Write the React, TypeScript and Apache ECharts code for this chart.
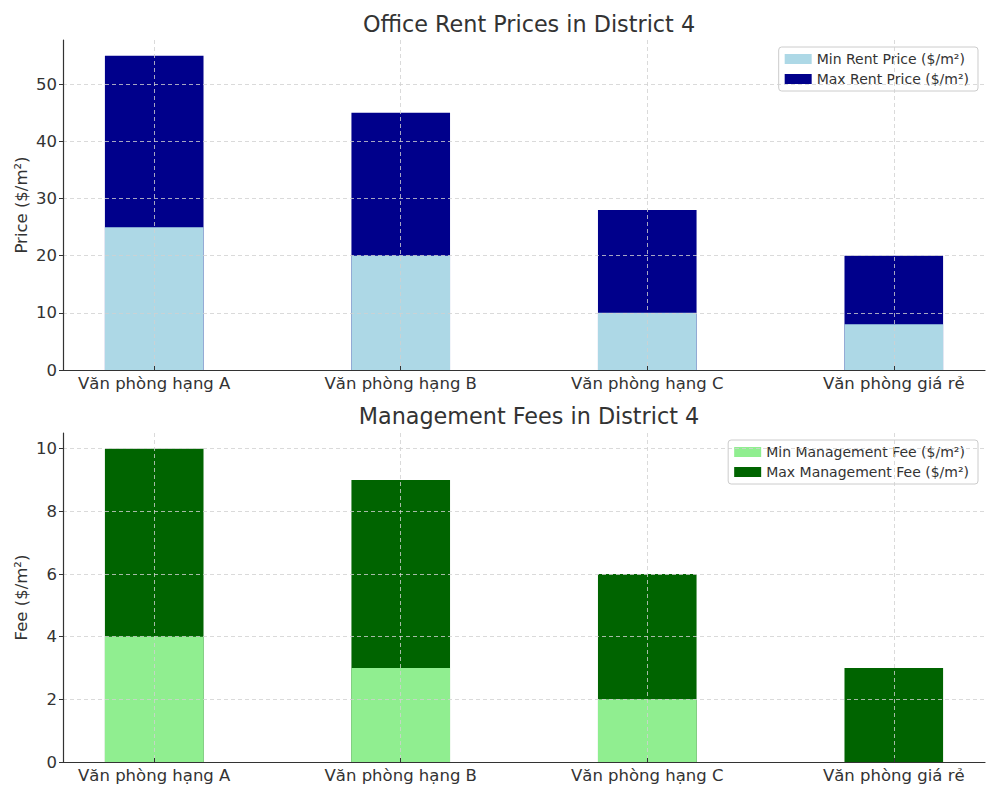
import React, { useEffect, useRef } from "react";
import * as echarts from "echarts";

const categories = ["Văn phòng hạng A", "Văn phòng hạng B", "Văn phòng hạng C", "Văn phòng giá rẻ"];
const minRent = [25, 20, 10, 8];
const maxRent = [55, 45, 28, 20];
const minFee = [4, 3, 2, 0];
const maxFee = [10, 9, 6, 3];
const rentTicks = [0, 10, 20, 30, 40, 50];
const feeTicks = [0, 2, 4, 6, 8, 10];
const catPositions = [0, 1, 2, 3];

const TEXT = "#333333";
const FONT = "DejaVu Sans";

function pairs(vals: number[]) {
  return vals.map((v, i) => [catPositions[i], v]);
}

function xAxisCfg(gridIndex: number) {
  return {
    type: "value",
    gridIndex,
    min: -0.37,
    max: 3.37,
    z: 5,
    axisLine: { show: true, onZero: false, lineStyle: { color: TEXT, width: 1.2 } },
    axisTick: { show: true, inside: true, length: 4, customValues: catPositions, lineStyle: { color: TEXT } },
    axisLabel: {
      customValues: catPositions,
      formatter: (v: number) => categories[Math.round(v)] ?? "",
      color: TEXT,
      fontSize: 16.5,
      fontFamily: FONT,
      margin: 5,
    },
    splitLine: { show: true, lineStyle: { color: "#d0d0d0", type: [4, 3], width: 0.8 } },
  };
}

function yAxisCfg(gridIndex: number, max: number, ticks: number[], name: string) {
  return {
    type: "value",
    gridIndex,
    min: 0,
    max,
    z: 5,
    name,
    nameLocation: "middle",
    nameGap: 33,
    nameMoveOverlap: false,
    nameTextStyle: { color: TEXT, fontSize: 16.5, fontFamily: FONT },
    axisLine: { show: true, onZero: false, lineStyle: { color: TEXT, width: 1.2 } },
    axisTick: { show: true, length: 4, customValues: ticks, lineStyle: { color: TEXT } },
    axisLabel: { customValues: ticks, color: TEXT, fontSize: 16.5, fontFamily: FONT, margin: 6 },
    splitLine: { show: true, lineStyle: { color: "#d0d0d0", type: [4, 3], width: 0.8 } },
  };
}

export default function App() {
  const ref = useRef<HTMLDivElement>(null);
  useEffect(() => {
    if (!ref.current) return;
    const chart = echarts.init(ref.current, undefined, { renderer: "svg" });
    const legendCommon = {
      orient: "vertical",
      right: 22,
      itemWidth: 27,
      itemHeight: 10,
      itemGap: 6,
      icon: "rect",
      backgroundColor: "#ffffff",
      borderColor: "#cccccc",
      borderWidth: 1,
      borderRadius: 3,
      padding: [5, 9, 5, 6],
      textStyle: { color: TEXT, fontSize: 14, fontFamily: FONT },
    };
    chart.setOption({
      animation: false,
      backgroundColor: "#ffffff",
      title: [
        {
          text: "Office Rent Prices in District 4",
          left: 524,
          top: 8,
          textAlign: "center",
          textStyle: { color: TEXT, fontSize: 22.3, fontWeight: "normal", fontFamily: FONT },
        },
        {
          text: "Management Fees in District 4",
          left: 524,
          top: 400,
          textAlign: "center",
          textStyle: { color: TEXT, fontSize: 22.3, fontWeight: "normal", fontFamily: FONT },
        },
      ],
      legend: [
        { ...legendCommon, top: 47, data: ["Min Rent Price ($/m²)", "Max Rent Price ($/m²)"] },
        { ...legendCommon, top: 440, data: ["Min Management Fee ($/m²)", "Max Management Fee ($/m²)"] },
      ],
      grid: [
        { left: 63, right: 15, top: 40, height: 330 },
        { left: 63, right: 15, top: 433, height: 329 },
      ],
      xAxis: [xAxisCfg(0), xAxisCfg(1)],
      yAxis: [
        yAxisCfg(0, 57.75, rentTicks, "Price ($/m²)"),
        yAxisCfg(1, 10.5, feeTicks, "Fee ($/m²)"),
      ],
      series: [
        {
          name: "Max Rent Price ($/m²)",
          type: "bar",
          xAxisIndex: 0,
          yAxisIndex: 0,
          barWidth: 98.6,
          barGap: "-100%",
          z: 1,
          itemStyle: { color: "#00008b" },
          data: pairs(maxRent),
        },
        {
          name: "Min Rent Price ($/m²)",
          type: "bar",
          xAxisIndex: 0,
          yAxisIndex: 0,
          barWidth: 98.6,
          barGap: "-100%",
          z: 2,
          itemStyle: { color: "#add8e6" },
          data: pairs(minRent),
        },
        {
          name: "Max Management Fee ($/m²)",
          type: "bar",
          xAxisIndex: 1,
          yAxisIndex: 1,
          barWidth: 98.6,
          barGap: "-100%",
          z: 1,
          itemStyle: { color: "#006400" },
          data: pairs(maxFee),
        },
        {
          name: "Min Management Fee ($/m²)",
          type: "bar",
          xAxisIndex: 1,
          yAxisIndex: 1,
          barWidth: 98.6,
          barGap: "-100%",
          z: 2,
          itemStyle: { color: "#90ee90" },
          data: pairs(minFee),
        },
      ],
    });
    return () => chart.dispose();
  }, []);
  return <div ref={ref} style={{ position: "fixed", left: 0, top: 0, width: 1000, height: 800 }} />;
}
